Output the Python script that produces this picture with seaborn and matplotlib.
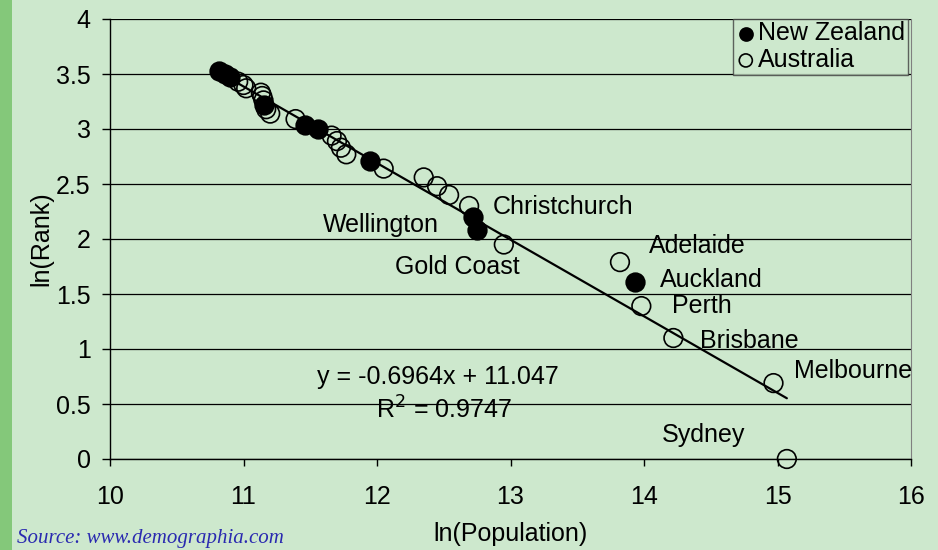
"""Rank-size plot: ln(Rank) vs ln(Population), NZ and Australian cities."""
import numpy as np
import pandas as pd
import matplotlib
matplotlib.use("Agg")
import matplotlib.pyplot as plt
import seaborn as sns
from matplotlib.patches import Rectangle

# ---------------------------------------------------------------------------
# data
# ---------------------------------------------------------------------------
nz_ln_pop = [13.93, 12.75, 12.72, 11.95, 11.56, 11.46, 11.15, 10.90, 10.86, 10.82]
nz_ln_rank = [1.61, 2.08, 2.20, 2.71, 3.00, 3.04, 3.22, 3.47, 3.50, 3.53]

au_ln_pop = [15.07, 14.97, 14.22, 13.98, 13.82, 12.95, 12.69, 12.54, 12.45,
             12.35, 12.05, 11.77, 11.73, 11.70, 11.66, 11.39, 11.20, 11.17,
             11.15, 11.14, 11.13, 11.02, 11.00, 10.96]
au_ln_rank = [0.00, 0.69, 1.10, 1.39, 1.79, 1.95, 2.30, 2.40, 2.48,
              2.56, 2.64, 2.77, 2.83, 2.89, 2.94, 3.09, 3.14, 3.18,
              3.26, 3.30, 3.33, 3.37, 3.40, 3.43]

trend_slope = -0.6964
trend_intercept = 11.047
trend_r2 = 0.9747

city_names = ["Christchurch", "Wellington", "Gold Coast", "Adelaide", "Auckland",
              "Perth", "Brisbane", "Melbourne", "Sydney"]
city_label_x = [12.87, 12.46, 13.07, 14.04, 14.12, 14.21, 14.42, 15.12, 14.13]
city_label_y = [2.29, 2.13, 1.745, 1.94, 1.63, 1.39, 1.07, 0.80, 0.22]
city_label_ha = ["left", "right", "right", "left", "left", "left", "left", "left", "left"]

x_ticks = [10, 11, 12, 13, 14, 15, 16]
y_ticks = [0, 0.5, 1, 1.5, 2, 2.5, 3, 3.5, 4]

nz = pd.DataFrame({"ln_pop": nz_ln_pop, "ln_rank": nz_ln_rank})
au = pd.DataFrame({"ln_pop": au_ln_pop, "ln_rank": au_ln_rank})

# ---------------------------------------------------------------------------
# style
# ---------------------------------------------------------------------------
BG = "#cde8cd"
sns.set_style("white")
plt.rcParams["font.family"] = ["Liberation Sans", "DejaVu Sans"]
plt.rcParams["font.size"] = 18
for key in ["text.color", "axes.labelcolor", "xtick.color", "ytick.color"]:
    plt.rcParams[key] = "black"

fig = plt.figure(figsize=(9.38, 5.5), dpi=100, facecolor=BG)
fig.patches.append(Rectangle((0, 0), 12 / 938, 1, transform=fig.transFigure,
                             facecolor="#84c87a", edgecolor="none", zorder=0))
ax = fig.add_axes([110 / 938, 1 - 459 / 550, 801 / 938, 440 / 550])
ax.set_facecolor(BG)

# ---------------------------------------------------------------------------
# marks
# ---------------------------------------------------------------------------
sns.scatterplot(data=nz, x="ln_pop", y="ln_rank", ax=ax, s=180,
                color="black", edgecolor="black", linewidth=1.2,
                label="New Zealand", zorder=3, clip_on=False)
sns.scatterplot(data=au, x="ln_pop", y="ln_rank", ax=ax, s=180,
                facecolor="none", edgecolor="black", linewidth=1.2,
                label="Australia", zorder=4, clip_on=False)

all_x = np.array(nz_ln_pop + au_ln_pop)
line_x = np.array([all_x.min(), all_x.max()])
ax.plot(line_x, trend_slope * line_x + trend_intercept, color="black",
        lw=1.6, zorder=5)

for name, tx, ty, ha in zip(city_names, city_label_x, city_label_y, city_label_ha):
    ax.text(tx, ty, name, ha=ha, va="center", fontsize=18)

ax.text(11.55, 0.745, f"y = {trend_slope}x + {trend_intercept}", ha="left",
        va="center", fontsize=18)
ax.text(11.99, 0.445, f"R$^2$ = {trend_r2}", ha="left", va="center", fontsize=18)

# ---------------------------------------------------------------------------
# axes
# ---------------------------------------------------------------------------
ax.set_xlim(10, 16)
ax.set_ylim(0, 4)
ax.set_xticks(x_ticks)
ax.set_yticks(y_ticks)
ax.set_yticklabels([f"{v:g}" for v in y_ticks])
ax.yaxis.grid(True, color="black", lw=0.9)
ax.xaxis.grid(False)
ax.set_axisbelow(True)
for side in ["left", "bottom"]:
    ax.spines[side].set_color("black")
    ax.spines[side].set_linewidth(1.0)
ax.spines["top"].set_visible(False)
ax.spines["right"].set_color("#808080")
ax.tick_params(axis="x", direction="out", length=5, width=1, pad=14,
               bottom=True, labelsize=18)
ax.tick_params(axis="y", direction="out", length=6, width=1, pad=8,
               left=True, labelsize=18)
ax.set_xlabel("ln(Population)", fontsize=18)
ax.set_ylabel("ln(Rank)", fontsize=18, labelpad=2)
ax.xaxis.set_label_coords(0.5, -0.143, transform=ax.transAxes)
ax.xaxis.label.set_va("top")

leg = ax.legend(loc="upper right", bbox_to_anchor=(0.996, 1.0), borderaxespad=0,
                frameon=True, fancybox=False, fontsize=18, handletextpad=0.1,
                borderpad=0.1, labelspacing=0.1, handlelength=0.8,
                markerscale=0.7)
leg.get_frame().set_edgecolor("#404040")
leg.get_frame().set_facecolor(BG)
leg.get_frame().set_linewidth(1.0)

fig.text(17 / 938, 0.004, "Source: www.demographia.com", ha="left",
         va="bottom", fontsize=15, style="italic", color="#2a2ab0",
         family=["Liberation Serif", "DejaVu Serif"])

fig.savefig("out.png", dpi=100, facecolor=BG)
